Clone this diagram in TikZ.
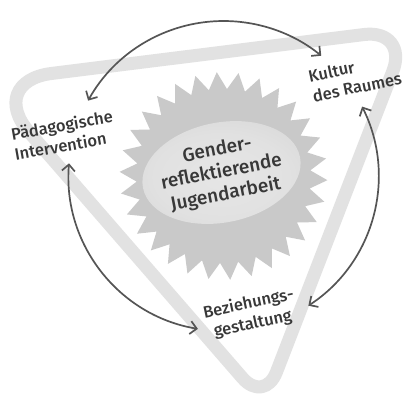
\documentclass[tikz,border=0pt]{standalone}
\usepackage{fontspec}
\setmainfont{Fira Sans Medium}
\usetikzlibrary{calc,arrows.meta}
\definecolor{bandgray}{HTML}{E2E2E2}
\definecolor{stargray}{HTML}{C9C9C9}
\definecolor{arrowgray}{HTML}{555555}
\definecolor{txt}{HTML}{383838}
\definecolor{glowin}{HTML}{E6E6E6}
\definecolor{glowa}{HTML}{E1E1E1}
\definecolor{glowb}{HTML}{D5D5D5}
\pgfdeclareradialshading{glowshade}{\pgfpoint{0bp}{0bp}}{color(0bp)=(glowin); color(20bp)=(glowa); color(38bp)=(glowb); color(50bp)=(stargray)}
\begin{document}
\begin{tikzpicture}[x=1pt,y=-1pt,
  lbl/.style={text=txt, font=\fontsize{16.5}{20.5}\selectfont, inner sep=0pt},
  ctr/.style={text=txt, font=\fontsize{19}{22.5}\selectfont, align=center, inner sep=0pt},
  conn/.style={draw=arrowgray, line width=1.7pt, {Straight Barb[length=6.5pt,width=13pt]}-{Straight Barb[length=6.5pt,width=13pt]}}]
\useasboundingbox (0,0) rectangle (408,408);
\fill[white] (0,0) rectangle (408,408);
% triangle
\coordinate (V1) at (-14.7,81.7);
\coordinate (V2) at (409.2,28.9);
\coordinate (V3) at (264.4,403.2);
\draw[bandgray, line width=13pt, line join=round]
  ($(V1)!0.5!(V2)$) -- ($(V2)!45.5pt!(V1)$) .. controls ($(V2)!20.4pt!(V1)$) and ($(V2)!20.4pt!(V3)$) .. ($(V2)!45.5pt!(V3)$)
  -- ($(V3)!33.3pt!(V2)$) .. controls ($(V3)!14.9pt!(V2)$) and ($(V3)!14.9pt!(V1)$) .. ($(V3)!33.3pt!(V1)$)
  -- ($(V1)!66.7pt!(V3)$) .. controls ($(V1)!29.9pt!(V3)$) and ($(V1)!29.9pt!(V2)$) .. ($(V1)!66.7pt!(V2)$)
  -- cycle;
% star
\coordinate (C) at (223.5,176);
\fill[stargray] plot[samples=61, domain=0:60, variable=\i]
  ({223.5+ifthenelse(mod(round(\i),2)==0,104,87)*cos(2.3+6*\i)},
   {176+ifthenelse(mod(round(\i),2)==0,104,87)*sin(2.3+6*\i)}) -- cycle;
% glow
\begin{scope}[shift={(221.5,172.5)}, rotate=11]
  \shade[shading=glowshade] (0,0) ellipse [x radius=80, y radius=50];
\end{scope}
% labels
\node[lbl, align=left, rotate=10] (ped) at (63.5,135) {Pädagogische\\Intervention};
\node[lbl, align=left, rotate=12] (kul) at (355,77) {Kultur\\des Raumes};
\node[lbl, align=center, rotate=12] (bez) at (250.7,314) {Beziehungs-\\gestaltung};
\node[ctr, rotate=11] (gen) at (221.5,172.5) {Gender-\\reflektierende\\Jugendarbeit};
% arcs
\coordinate (a1s) at ($(C)+(-150.9:155)$);
\coordinate (a2s) at ($(C)+(-26.6:155)$);
\coordinate (a3s) at ($(C)+(99.5:155)$);
\draw[conn] (a1s) arc[start angle=-150.9, end angle=-50.9, radius=155];
\draw[conn] (a2s) arc[start angle=-26.6, end angle=56.8, radius=155];
\draw[conn] (a3s) arc[start angle=99.5, end angle=184.7, radius=155];
\end{tikzpicture}
\end{document}
